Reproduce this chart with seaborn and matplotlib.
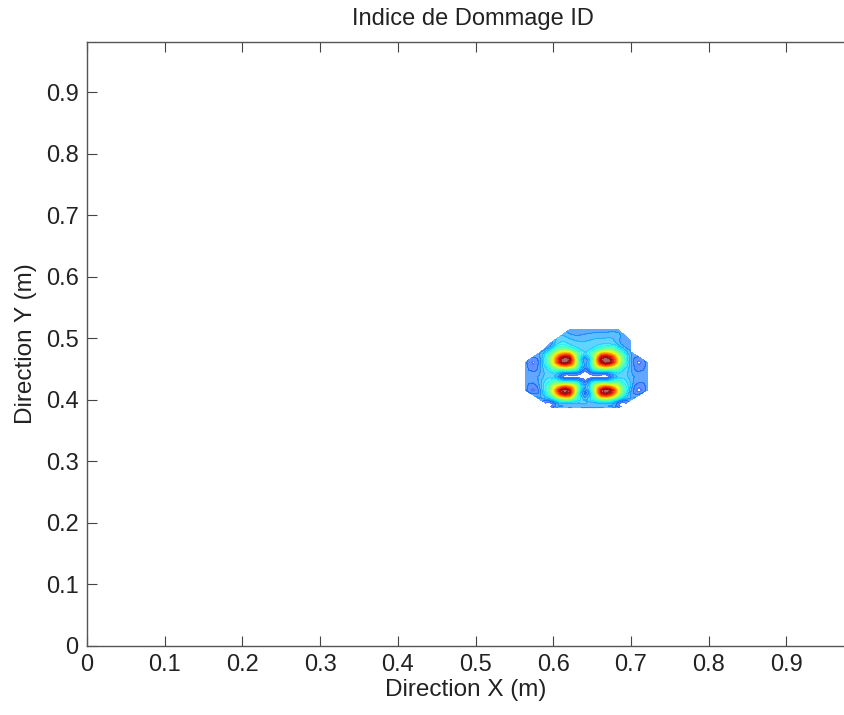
import numpy as np
import matplotlib
matplotlib.use("Agg")
import matplotlib.pyplot as plt
import matplotlib.tri as mtri
import seaborn as sns

# Damage index field (NaN = outside the damaged zone)
x_coords = [0.564, 0.584, 0.600, 0.621, 0.641, 0.662, 0.684, 0.700, 0.721]
y_coords = [0.387, 0.400, 0.416, 0.438, 0.461, 0.478, 0.496, 0.514]
nan = np.nan
row_0387 = [nan, nan, 0.12, 0.14, 0.14, 0.14, 0.12, nan, nan]
row_0400 = [nan, 0.13, 0.20, 0.40, 0.18, 0.40, 0.20, 0.13, nan]
row_0416 = [0.12, 0.15, 0.60, 0.95, 0.11, 0.95, 0.60, 0.15, 0.12]
row_0438 = [0.12, 0.16, 0.20, 0.02, 0.00, 0.02, 0.20, 0.16, 0.12]
row_0461 = [0.12, 0.15, 0.60, 0.95, 0.11, 0.95, 0.60, 0.15, 0.12]
row_0478 = [nan, 0.14, 0.38, 0.58, 0.22, 0.58, 0.38, 0.14, nan]
row_0496 = [nan, nan, 0.15, 0.20, 0.18, 0.20, 0.15, 0.13, nan]
row_0514 = [nan, nan, nan, 0.12, 0.12, 0.12, 0.12, nan, nan]

x_ticks = [0, 0.1, 0.2, 0.3, 0.4, 0.5, 0.6, 0.7, 0.8, 0.9]
y_ticks = [0, 0.1, 0.2, 0.3, 0.4, 0.5, 0.6, 0.7, 0.8, 0.9]

title = "Indice de Dommage ID"
xlabel = "Direction X (m)"
ylabel = "Direction Y (m)"

sns.set_theme(style="white")
plt.rcParams['font.family'] = ['Liberation Sans', 'DejaVu Sans']

Z = np.array([row_0387, row_0400, row_0416, row_0438, row_0461,
              row_0478, row_0496, row_0514])
ny, nx = Z.shape
X, Y = np.meshgrid(x_coords, y_coords)
xf, yf, zf = X.ravel(), Y.ravel(), Z.ravel()
valid = ~np.isnan(zf)

# finite-element-like mesh: diagonals radiate from the centre node
ci, cj = 4, 3
tris = []
for j in range(ny - 1):
    for i in range(nx - 1):
        a, b = j * nx + i, j * nx + i + 1
        c, d = (j + 1) * nx + i, (j + 1) * nx + i + 1
        if not valid[a] or not valid[d]:
            use_main = False
        elif not valid[b] or not valid[c]:
            use_main = True
        else:
            use_main = (i < ci) == (j < cj)
        if use_main:
            tris += [[a, b, d], [a, d, c]]
        else:
            tris += [[a, b, c], [b, d, c]]
tris = np.array(tris)
tri = mtri.Triangulation(xf, yf, tris)
tri.set_mask(np.any(~valid[tris], axis=1))
zfill = np.where(valid, zf, 0.0)

refiner = mtri.UniformTriRefiner(tri)
tri_r, z_r = refiner.refine_field(zfill, subdiv=2)

fig = plt.figure(figsize=(8.45, 7.15), dpi=100)
ax = fig.add_axes([87 / 845, 1 - 646 / 715, 777 / 845, 604 / 715])

levels = np.linspace(0.06, 1.0, 24)
ax.tricontourf(tri_r, z_r, levels=levels, cmap="jet", vmin=-0.15, vmax=1.0,
               alpha=0.62, extend="max")
ax.tricontour(tri_r, z_r, levels=levels, cmap="jet", vmin=-0.15, vmax=1.0,
              linewidths=0.6, alpha=0.4)

ax.set_xlim(0, 1.0)
ax.set_ylim(0, 0.982)
ax.set_xticks(x_ticks)
ax.set_yticks(y_ticks)
ax.set_xticklabels([f"{t:g}" for t in x_ticks])
ax.set_yticklabels([f"{t:g}" for t in y_ticks])
ax.tick_params(direction="in", length=7, width=0.8, color="#444444",
               labelsize=17, top=True, right=True, bottom=True, left=True,
               pad=6, labelcolor="#222222")
for s in ax.spines.values():
    s.set_color("#555555")
    s.set_linewidth(1.0)
ax.set_title(title, fontsize=17, color="#222222", pad=12, x=0.497)
ax.set_xlabel(xlabel, fontsize=17.5, color="#222222", labelpad=4)
ax.xaxis.set_label_coords(0.488, -0.055)
ax.set_ylabel(ylabel, fontsize=17.5, color="#222222", labelpad=6)
ax.grid(False)
ax.set_facecolor("white")

fig.savefig("out.png", dpi=100)
